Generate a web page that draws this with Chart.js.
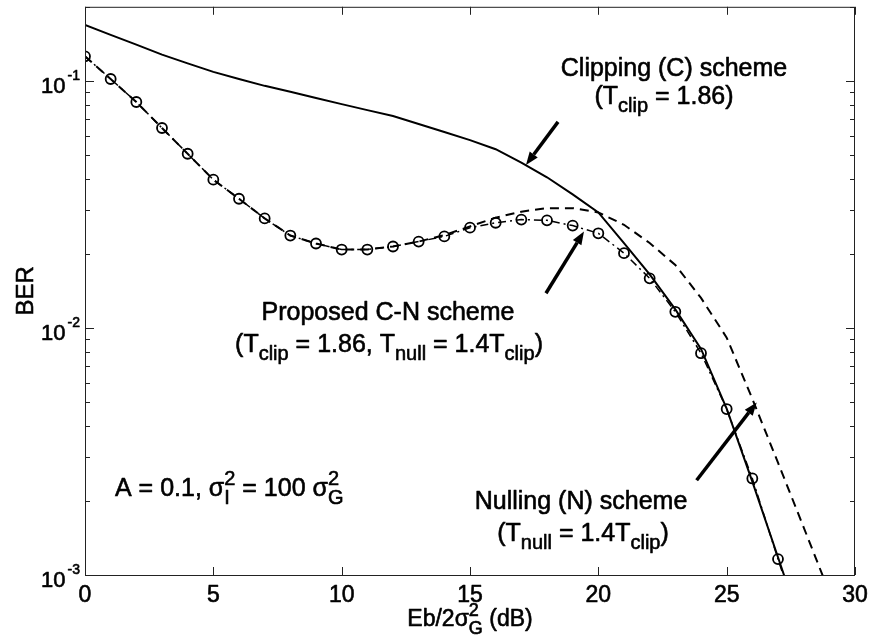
<!DOCTYPE html>
<html>
<head>
<meta charset="utf-8">
<script src="https://cdn.jsdelivr.net/npm/chart.js@4.4.1/dist/chart.umd.min.js"></script>
<style>
  html, body { margin: 0; padding: 0; background: #fff; }
  #wrap { width: 870px; height: 644px; }
</style>
</head>
<body>
<div id="wrap"><canvas id="ber" width="870" height="644"></canvas></div>
<script>
// Eb/2sigma_G^2 in dB, one point per dB
const snrDb = [0, 1, 2, 3, 4, 5, 6, 7, 8, 9, 10, 11, 12, 13, 14, 15, 16, 17, 18, 19, 20, 21, 22, 23, 24, 25, 26, 27, 28, 29];

// Clipping (C) scheme, T_clip = 1.86
const berClipping = [0.169, 0.154, 0.1406, 0.128, 0.118, 0.109, 0.102, 0.0957, 0.0905, 0.0855,
  0.0807, 0.0763, 0.0722, 0.0671, 0.0622, 0.0577, 0.0530, 0.0468, 0.0408, 0.0348,
  0.0294, 0.0221, 0.0165, 0.0119, 0.00823, 0.00472, 0.00239, 0.00118, 0.00058, null];

// Nulling (N) scheme, T_null = 1.4 T_clip
const berNulling = [0.126, 0.102, 0.0823, 0.0646, 0.0508, 0.0399, 0.0334, 0.0278, 0.0237, 0.0220,
  0.0208, 0.0208, 0.0214, 0.0224, 0.0238, 0.0258, 0.0280, 0.0296, 0.0306, 0.0306,
  0.0294, 0.0262, 0.0221, 0.0180, 0.01325, 0.00915, 0.00517, 0.00285, 0.00156, 0.00085];

// Proposed C-N scheme
const berProposed = [0.126, 0.102, 0.0823, 0.0646, 0.0508, 0.0399, 0.0334, 0.0278, 0.0237, 0.0220,
  0.0208, 0.0208, 0.0214, 0.0224, 0.0235, 0.0255, 0.0267, 0.0275, 0.0273, 0.0260,
  0.0242, 0.0201, 0.0159, 0.01164, 0.00791, 0.00470, 0.00246, 0.00116, 0.00056, null];

const xTicks = [0, 5, 10, 15, 20, 25, 30];
const yDecades = [-3, -2, -1];
const yMin = 0.001, yMax = 0.2;

const FONT = '"Liberation Sans", Arial, Helvetica, sans-serif';
const font = px => `${px}px ${FONT}`;

// text pieces: {t} plain, {sub}/{sup} scripts (stacked if both)
const notes = [
  { x: 674, y: 76, parts: [{ t: "Clipping (C) scheme" }] },
  { x: 664, y: 104, parts: [{ t: "(T" }, { sub: "clip" }, { t: " = 1.86)" }] },
  { x: 388, y: 320, parts: [{ t: "Proposed C-N scheme" }] },
  { x: 389, y: 352, parts: [{ t: "(T" }, { sub: "clip" }, { t: " = 1.86, T" }, { sub: "null" }, { t: " = 1.4T" }, { sub: "clip" }, { t: ")" }] },
  { x: 581, y: 509, parts: [{ t: "Nulling (N) scheme" }] },
  { x: 583, y: 541, parts: [{ t: "(T" }, { sub: "null" }, { t: " = 1.4T" }, { sub: "clip" }, { t: ")" }] },
  { x: 115, y: 496, align: "left", parts: [{ t: "A = 0.1, σ" }, { sup: "2", sub: "I" }, { t: " = 100 σ" }, { sup: "2", sub: "G" }] },
];

// arrows in data units: [dB, BER]
const arrows = [
  { from: [18.43, 0.0684], to: [17.18, 0.0458] },
  { from: [17.96, 0.01384], to: [19.44, 0.0246] },
  { from: [23.83, 0.00242], to: [26.17, 0.0050] },
];

// slightly heavier glyphs
function ink(ctx, s, x, y) {
  ctx.fillText(s, x, y);
  ctx.strokeText(s, x, y);
}

function measureRich(ctx, parts, size) {
  let w = 0;
  for (const p of parts) {
    if (p.t !== undefined) {
      ctx.font = font(size);
      w += ctx.measureText(p.t).width;
    } else {
      ctx.font = font(Math.round(size * 0.78));
      w += Math.max(p.sub ? ctx.measureText(p.sub).width : 0, p.sup ? ctx.measureText(p.sup).width : 0);
    }
  }
  return w;
}

function drawRich(ctx, parts, x, y, size, align) {
  const w = measureRich(ctx, parts, size);
  let cx = align === "left" ? x : align === "right" ? x - w : x - w / 2;
  ctx.textAlign = "left";
  ctx.textBaseline = "alphabetic";
  for (const p of parts) {
    if (p.t !== undefined) {
      ctx.font = font(size);
      ink(ctx, p.t, cx, y);
      cx += ctx.measureText(p.t).width;
    } else {
      ctx.font = font(Math.round(size * 0.78));
      let adv = 0;
      if (p.sup) {
        ink(ctx, p.sup, cx, y - size * 0.45);
        adv = ctx.measureText(p.sup).width;
      }
      if (p.sub) {
        ink(ctx, p.sub, cx, y + size * 0.33);
        adv = Math.max(adv, ctx.measureText(p.sub).width);
      }
      cx += adv;
    }
  }
}

function drawArrow(ctx, x1, y1, x2, y2) {
  const ang = Math.atan2(y2 - y1, x2 - x1);
  const head = 13, half = 5;
  const bx = x2 - head * Math.cos(ang), by = y2 - head * Math.sin(ang);
  ctx.lineWidth = 3.5;
  ctx.lineCap = "butt";
  ctx.beginPath();
  ctx.moveTo(x1, y1);
  ctx.lineTo(bx, by);
  ctx.stroke();
  ctx.beginPath();
  ctx.moveTo(x2, y2);
  ctx.lineTo(bx + half * Math.sin(ang), by - half * Math.cos(ang));
  ctx.lineTo(bx - half * Math.sin(ang), by + half * Math.cos(ang));
  ctx.closePath();
  ctx.fill();
}

// box, inward ticks, labels and annotations
const framePlugin = {
  id: "frame",
  afterDraw(chart) {
    const ctx = chart.ctx;
    const { left, right, top, bottom } = chart.chartArea;
    const xs = chart.scales.x, ys = chart.scales.y;
    ctx.save();
    ctx.strokeStyle = "#222";
    ctx.fillStyle = "#000";
    ctx.lineWidth = 1;
    ctx.strokeRect(left + 0.5, top + 0.5, right - left - 1, bottom - top);

    ctx.beginPath();
    for (const v of xTicks) {
      const px = Math.round(xs.getPixelForValue(v)) + 0.5;
      ctx.moveTo(px, bottom); ctx.lineTo(px, bottom - 8);
      ctx.moveTo(px, top); ctx.lineTo(px, top + 8);
    }
    for (const d of yDecades) {
      for (let m = 1; m <= 9; m++) {
        const v = m * Math.pow(10, d);
        if (v > yMax) continue;
        const py = Math.round(ys.getPixelForValue(v)) + 0.5;
        const len = m === 1 ? 9 : 5;
        ctx.moveTo(left, py); ctx.lineTo(left + len, py);
        ctx.moveTo(right, py); ctx.lineTo(right - len, py);
      }
    }
    ctx.stroke();

    ctx.strokeStyle = "#000";
    ctx.lineWidth = 0.6;
    ctx.lineJoin = "round";

    // tick labels
    ctx.textBaseline = "alphabetic";
    ctx.textAlign = "center";
    ctx.font = font(23);
    for (const v of xTicks) {
      ink(ctx, String(v), xs.getPixelForValue(v), bottom + 27);
    }
    for (const d of yDecades) {
      const py = ys.getPixelForValue(Math.pow(10, d));
      ctx.font = font(14);
      const ew = ctx.measureText(String(d)).width;
      ctx.textAlign = "left";
      ink(ctx, String(d), left - 5 - ew, py - 1);
      ctx.font = font(22);
      ctx.textAlign = "right";
      ink(ctx, "10", left - 7 - ew, py + 12);
    }

    // axis titles
    drawRich(ctx, [{ t: "Eb/2σ" }, { sup: "2", sub: "G" }, { t: " (dB)" }], (left + right) / 2, bottom + 51, 23, "center");
    ctx.save();
    ctx.translate(33, (top + bottom) / 2);
    ctx.rotate(-Math.PI / 2);
    ctx.font = font(24);
    ctx.textAlign = "center";
    ink(ctx, "BER", 0, 0);
    ctx.restore();

    // annotations
    for (const n of notes) drawRich(ctx, n.parts, n.x, n.y, 25, n.align || "center");
    for (const a of arrows) {
      drawArrow(ctx,
        xs.getPixelForValue(a.from[0]), ys.getPixelForValue(a.from[1]),
        xs.getPixelForValue(a.to[0]), ys.getPixelForValue(a.to[1]));
    }
    ctx.restore();
  }
};

const toPoints = arr => snrDb.map((x, i) => ({ x, y: arr[i] }));

new Chart(document.getElementById("ber"), {
  type: "line",
  data: {
    datasets: [
      {
        label: "Clipping (C) scheme",
        data: toPoints(berClipping),
        borderColor: "#000",
        borderWidth: 2,
        pointRadius: 0,
        tension: 0,
        clip: 0,
      },
      {
        label: "Nulling (N) scheme",
        data: toPoints(berNulling),
        borderColor: "#000",
        borderWidth: 2,
        borderDash: [9, 6],
        pointRadius: 0,
        tension: 0,
        clip: 0,
      },
      {
        label: "Proposed C-N scheme",
        data: toPoints(berProposed),
        borderColor: "#000",
        borderWidth: 1.5,
        borderDash: [8, 4, 2, 4],
        pointRadius: 5,
        pointBorderWidth: 1.8,
        pointBorderColor: "#000",
        pointBackgroundColor: "rgba(255,255,255,0)",
        tension: 0,
        clip: 0,
      },
    ]
  },
  options: {
    responsive: false,
    animation: false,
    devicePixelRatio: 1,
    layout: { padding: { top: 5, right: 15, left: 0, bottom: 0 } },
    plugins: { legend: { display: false }, tooltip: { enabled: false } },
    scales: {
      x: {
        type: "linear", min: 0, max: 30,
        grid: { display: false }, border: { display: false },
        ticks: { display: false },
        afterFit: s => { s.height = 69; },
      },
      y: {
        type: "logarithmic", min: yMin, max: yMax,
        grid: { display: false }, border: { display: false },
        ticks: { display: false },
        afterFit: s => { s.width = 85; },
      },
    },
  },
  plugins: [framePlugin],
});
</script>
</body>
</html>
